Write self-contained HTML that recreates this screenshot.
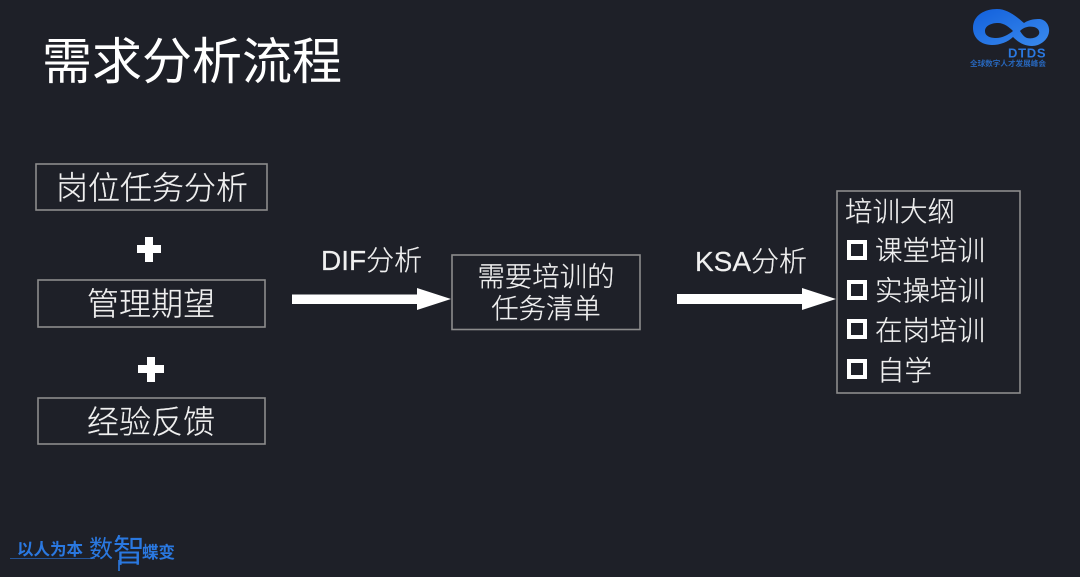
<!DOCTYPE html>
<html lang="zh">
<head>
<meta charset="utf-8">
<title>需求分析流程</title>
<style>
html,body{margin:0;padding:0;background:#1e2028;width:1080px;height:577px;overflow:hidden}
svg{display:block}
text{font-family:"Liberation Sans","Noto Sans CJK SC",sans-serif;fill:#f0f0f0;font-weight:300;stroke:#f0f0f0;stroke-width:.2}
.b{fill:none;stroke:#8c8c8c;stroke-width:1.6}
.c{text-anchor:middle}
.cb{fill:none;stroke:#fff;stroke-width:4}
.l{fill:#2a78e0;stroke:none;font-weight:700}
</style>
</head>
<body>
<svg width="1080" height="577" viewBox="0 0 1080 577" xmlns="http://www.w3.org/2000/svg">
<defs>
<linearGradient id="g" x1="0" y1="0" x2="1" y2="1"><stop offset="0" stop-color="#1260dc"/><stop offset="1" stop-color="#3a8aec"/></linearGradient>
</defs>
<rect width="1080" height="577" fill="#1e2028"/>
<text x="42" y="79" font-size="50" style="fill:#fff;stroke:none;font-weight:400">需求分析流程</text>

<rect class="b" x="36" y="164" width="231" height="46"/>
<text class="c" x="152" y="199" font-size="32">岗位任务分析</text>
<rect class="b" x="38" y="280" width="227" height="47"/>
<text class="c" x="151" y="315" font-size="32">管理期望</text>
<rect class="b" x="38" y="398" width="227" height="46"/>
<text class="c" x="151" y="433" font-size="32">经验反馈</text>

<path d="M145 237h8v8h8v8h-8v9h-8v-9h-8v-8h8z" fill="#fff"/>
<path d="M147 357h8v8h9v8h-9v9h-8v-9h-9v-8h9z" fill="#fff"/>

<text x="321" y="270" font-size="28">DIF分析</text>
<path d="M292 294.500H417V288L451 299L417 310V304H292z" fill="#fff"/>
<rect class="b" x="452" y="255" width="188" height="74.500"/>
<text class="c" x="546" y="286" font-size="27.400">需要培训的</text>
<text class="c" x="546" y="318" font-size="27.400">任务清单</text>

<text x="695" y="271" font-size="28">KSA分析</text>
<path d="M677 294H802V288L836 299L802 310V304H677z" fill="#fff"/>

<rect class="b" x="837" y="191" width="183" height="202"/>
<text x="845" y="221" font-size="27.500">培训大纲</text>
<rect class="cb" x="849" y="242" width="16" height="16"/>
<text x="875" y="260" font-size="27.500">课堂培训</text>
<rect class="cb" x="849" y="282" width="16" height="16"/>
<text x="875" y="300" font-size="27.500">实操培训</text>
<rect class="cb" x="849" y="321" width="16" height="16"/>
<text x="875" y="340" font-size="27.500">在岗培训</text>
<rect class="cb" x="849" y="361" width="16" height="16"/>
<text x="877" y="380" font-size="27.500">自学</text>

<path fill-rule="evenodd" fill="url(#g)" d="M973 28C973 15 985 9 997 9C1008 9 1017 17 1024 23C1030 19 1036 19 1039 19C1045 19 1050 25 1049 32C1048 40 1040 46 1032 46C1024 46 1018 42 1013 37C1008 42 1000 45 992 45C981 45 973 38 973 28Z
M985 31C985 26 991 23 998 23C1004 23 1009 27 1013 31C1008 35 1002 38 996 38C990 38 985 36 985 31Z
M1020 31C1024 27 1029 26 1034 27C1038 28 1040 31 1039 34C1037 38 1031 39 1027 38C1024 37 1022 34 1020 31Z"/>
<text class="l" x="1008" y="57.500" font-size="13" letter-spacing=".7">DTDS</text>
<text class="l" x="970" y="66" font-size="7.600" opacity=".8">全球数字人才发展峰会</text>

<text class="l" x="17" y="555" font-size="16.500">以人为本</text>
<text class="l" x="89" y="557" font-size="24" style="font-weight:400">数</text>
<text class="l" x="113" y="562" font-size="32" style="font-weight:400" transform="translate(0 0)">智</text>
<text class="l" x="142" y="558" font-size="16.500">蝶变</text>
<rect x="10" y="558" width="85" height="1" fill="#2a78e0" opacity=".6"/>
<rect x="118" y="560" width="2" height="11" fill="#2a78e0" opacity=".8"/>
</svg>
</body>
</html>
